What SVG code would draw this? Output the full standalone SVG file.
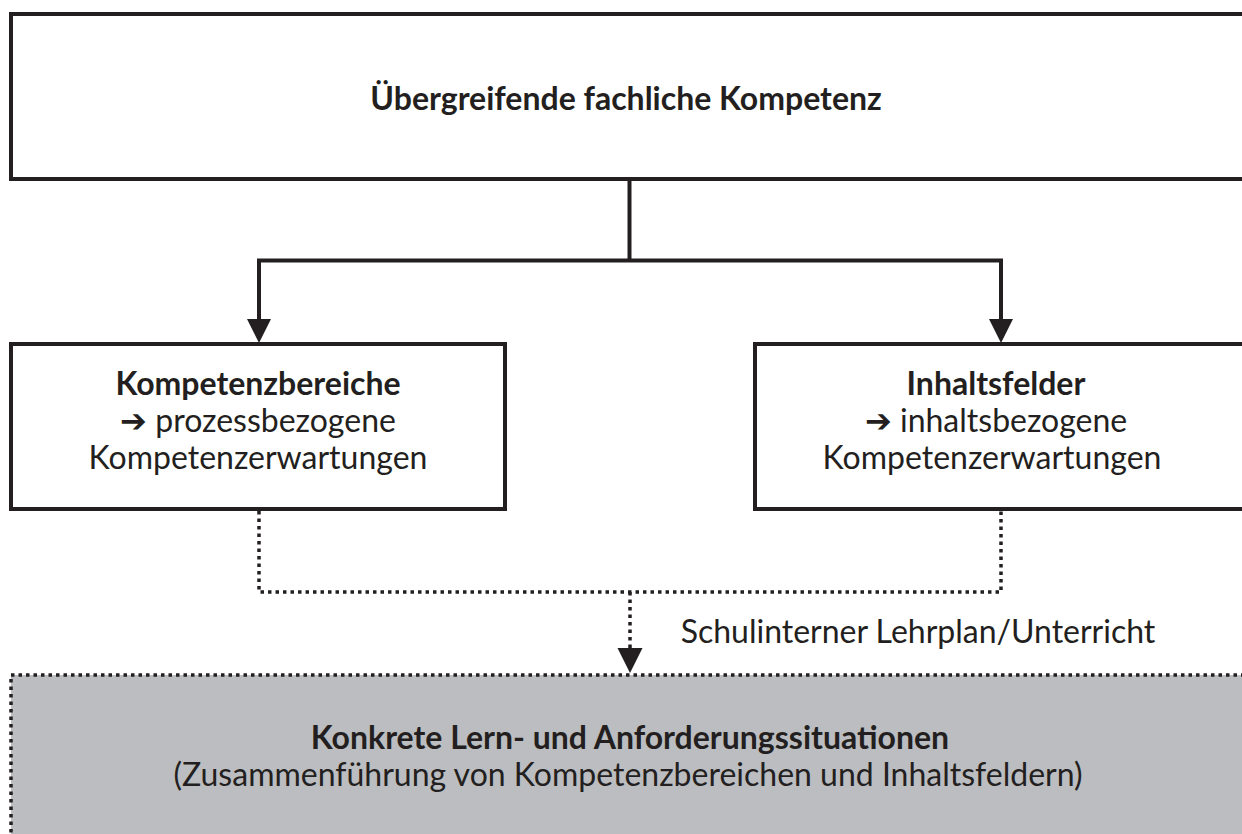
<svg xmlns="http://www.w3.org/2000/svg" width="1242" height="834" viewBox="0 0 1242 834">
<style>
.box{fill:#ffffff;stroke:#231f20;stroke-width:4}
.gray{fill:#bcbdc1;stroke:#231f20;stroke-width:3.5;stroke-dasharray:3.5 4}
.solid{fill:none;stroke:#231f20;stroke-width:4}
.dot{fill:none;stroke:#231f20;stroke-width:3.5;stroke-dasharray:3.5 4}
.head{fill:#231f20}
text{font-family:Lato,"Open Sans","Liberation Sans",sans-serif;font-size:32px;fill:#231f20;text-anchor:middle}
.b{font-weight:bold}
</style>
<rect width="1242" height="834" fill="#ffffff"/>
<g id="top">
<rect class="box" x="11" y="14" width="1260" height="165"/>
<text class="b" x="626" y="110">Übergreifende fachliche Kompetenz</text>
</g>
<g id="kompetenzbereiche">
<rect class="box" x="11" y="344" width="494" height="165"/>
<text class="b" x="258" y="395">Kompetenzbereiche</text>
<text x="258" y="432">➔ prozessbezogene</text>
<text x="258" y="469">Kompetenzerwartungen</text>
</g>
<g id="inhaltsfelder">
<rect class="box" x="755" y="344" width="520" height="165"/>
<text class="b" x="996" y="395">Inhaltsfelder</text>
<text x="996" y="432">➔ inhaltsbezogene</text>
<text x="992" y="469">Kompetenzerwartungen</text>
</g>
<g id="konkret">
<rect class="gray" x="11" y="675" width="1270" height="200"/>
<text class="b" x="630" y="749">Konkrete Lern- und Anforderungssituationen</text>
<text x="628" y="786">(Zusammenführung von Kompetenzbereichen und Inhaltsfeldern)</text>
</g>
<g id="connectors">
<polyline class="solid" points="629.5,181 629.5,260.5"/>
<polyline class="solid" points="259,321 259,260.5 1001,260.5 1001,321"/>
<polygon class="head" points="247,319 271,319 259,343"/>
<polygon class="head" points="989,319 1013,319 1001,343"/>
<polyline class="dot" points="259,511 259,592 1001,592 1001,511"/>
<polyline class="dot" points="630,592 630,650"/>
<polygon class="head" points="617.5,648 642.5,648 630,673"/>
<text x="918" y="643">Schulinterner Lehrplan/Unterricht</text>
</g>
</svg>
